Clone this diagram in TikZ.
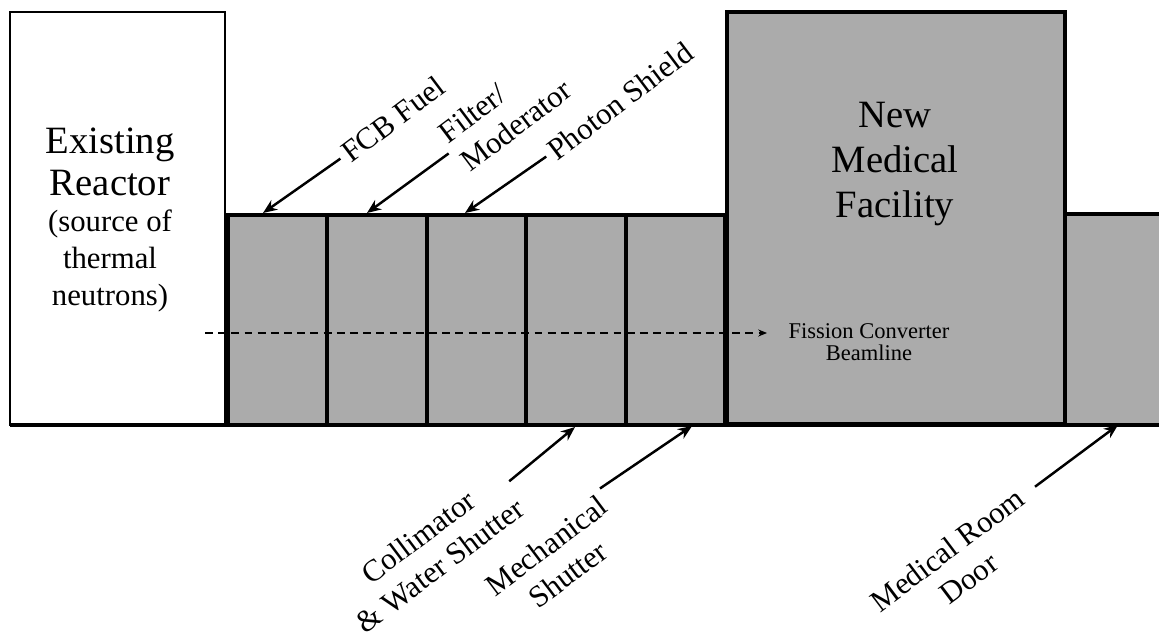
\documentclass[tikz,border=0pt]{standalone}
\usepackage{fontspec}
\setmainfont{Liberation Serif}
\usetikzlibrary{arrows.meta}
\tikzset{
	callout/.style={font=\fontsize{17.5}{20.5}\selectfont, rotate=37, align=center, inner sep=3pt},
	pointer/.style={line width=1.4pt, -{Stealth[length=8pt, width=6.5pt]}},
	segment/.style={line width=2.2pt, draw=black, fill=black!33},
}
\begin{document}
\begin{tikzpicture}[x=0.2mm, y=-0.2mm]
	\useasboundingbox (0,0) rectangle (1159,632);
	% Reaktor
	\filldraw[line width=1.3pt, draw=black, fill=white] (10,12) rectangle (225,425);
	\node[align=center, font=\fontsize{22}{24}\selectfont] (reactor) at (110,162) {Existing\\Reactor};
	\node[align=center, font=\fontsize{17.5}{21.3}\selectfont] (reactornote) at (110,261) {(source of\\thermal\\neutrons)};
	% Segmente der Strahlfuehrung
	\foreach \i in {0,...,4}
		\filldraw[segment] (228+99.4*\i, 215) rectangle (228+99.4*\i+99.4, 425);
	% Medizinischer Raum
	\filldraw[segment, line width=1.8pt] (727,12) rectangle (1065,424);
	\node[align=center, font=\fontsize{22}{25.6}\selectfont] (facility) at (895,164) {New\\Medical\\Facility};
	\fill[black!33] (1065,214) rectangle (1159,424);
	\draw[line width=2.2pt] (1159,214) -- (1065,214) -- (1065,424);
	\draw[line width=2pt] (10,425) -- (1159,425);
	% Strahlrohr
	\coordinate (beamstart) at (205,333);
	\coordinate (beamend) at (767,333);
	\draw[line width=0.7pt, dash pattern=on 4.5pt off 3pt, -{Stealth[length=5pt, width=4pt]}] (beamstart) -- (beamend);
	\node[align=center, font=\fontsize{12.8}{12.5}\selectfont] (beamline) at (869,342) {Fission Converter\\Beamline};
	% Beschriftungen oben
	\node[callout] (fcb) at (393,119) {FCB Fuel};
	\node[callout, align=left] (filter) at (505,111) {Filter/\\Moderator};
	\node[callout] (photon) at (620,101) {Photon Shield};
	\coordinate (fcbtip) at (263,213);
	\coordinate (filtertip) at (367,213);
	\coordinate (photontip) at (465,213);
	\draw[pointer] (fcb.west) -- (fcbtip);
	\draw[pointer] (filter.west) -- (filtertip);
	\draw[pointer] (photon.west) -- (photontip);
	% Beschriftungen unten
	\node[callout] (collimator) at (429,551) {Collimator\\\& Water Shutter};
	\node[callout] (mechshutter) at (557,560) {Mechanical\\Shutter};
	\node[callout] (door) at (958,564) {Medical Room\\Door};
	\coordinate (colltip) at (575,427);
	\coordinate (mechtip) at (692,426);
	\coordinate (doortip) at (1118,425);
	\draw[pointer] (collimator.4) -- (colltip);
	\draw[pointer] (mechshutter.22) -- (mechtip);
	\draw[pointer, shorten <=6pt] (door.9) -- (doortip);
\end{tikzpicture}
\end{document}
